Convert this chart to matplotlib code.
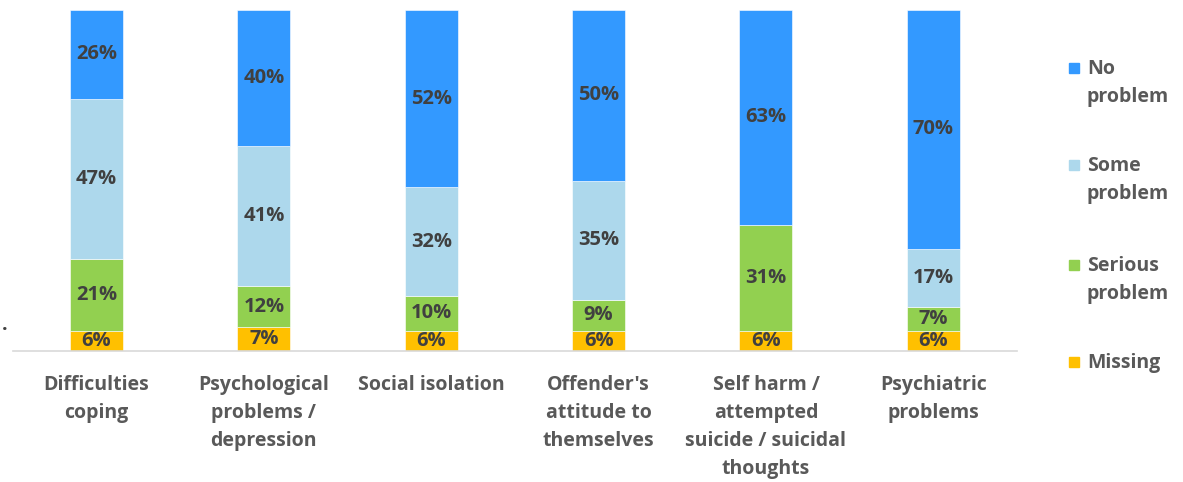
import matplotlib.pyplot as plt
from matplotlib.patches import Rectangle
import numpy as np

plt.rcParams["font.family"] = ["Open Sans", "DejaVu Sans"]

categories = [
    "Difficulties\ncoping",
    "Psychological\nproblems /\ndepression",
    "Social isolation",
    "Offender's\nattitude to\nthemselves",
    "Self harm /\nattempted\nsuicide / suicidal\nthoughts",
    "Psychiatric\nproblems",
]

# stacked from the bottom up
missing = [6, 7, 6, 6, 6, 6]
serious = [21, 12, 10, 9, 31, 7]
some = [47, 41, 32, 35, 0, 17]
no_problem = [26, 40, 52, 50, 63, 70]

series_names = ["Missing", "Serious\nproblem", "Some\nproblem", "No\nproblem"]
colors = ["#FFC000", "#92D050", "#ADD8EC", "#3399FF"]

W, H = 1183, 482
fig = plt.figure(figsize=(W / 100, H / 100), dpi=100)
ax = fig.add_axes([12.8 / W, 131 / H, (1017 - 12.8) / W, 341 / H])

x = np.arange(len(categories))
bottom = np.zeros(len(categories))
for vals, col in zip([missing, serious, some, no_problem], colors):
    vals = np.array(vals, dtype=float)
    ax.bar(x, vals, bottom=bottom, width=0.317, color=col, edgecolor="white", linewidth=0.4)
    for xi, b, v in zip(x, bottom, vals):
        if v > 0:
            ax.text(xi, b + v / 2, f"{int(v)}%", ha="center", va="center",
                    fontsize=14.5, fontweight="bold", color="#404040")
    bottom += vals

ax.set_xlim(-0.5, len(categories) - 0.5)
ax.set_ylim(0, 100)
ax.set_yticks([])
for s in ["top", "right", "left"]:
    ax.spines[s].set_visible(False)
ax.spines["bottom"].set_color("#D9D9D9")
ax.spines["bottom"].set_linewidth(1.2)

ax.set_xticks(x)
ax.set_xticklabels(categories, fontsize=14, fontweight="bold", color="#595959",
                   linespacing=1.55, va="top")
ax.tick_params(axis="x", length=0, pad=17)

# legend (top entry first)
legend_y = [68, 165, 265, 362]
for name, col, ly in zip(series_names[::-1], colors[::-1], legend_y):
    fig.add_artist(Rectangle((1069 / W, 1 - (ly + 5) / H), 10 / W, 10 / H,
                             transform=fig.transFigure, color=col))
    fig.text(1087 / W, 1 - (ly - 9) / H, name, ha="left", va="top", fontsize=14,
             fontweight="bold", color="#595959", linespacing=1.55)

fig.text(5 / W, 1 - 325 / H, ".", ha="center", va="center", fontsize=14,
         fontweight="bold", color="#404040")

fig.savefig("out.png", dpi=100)
